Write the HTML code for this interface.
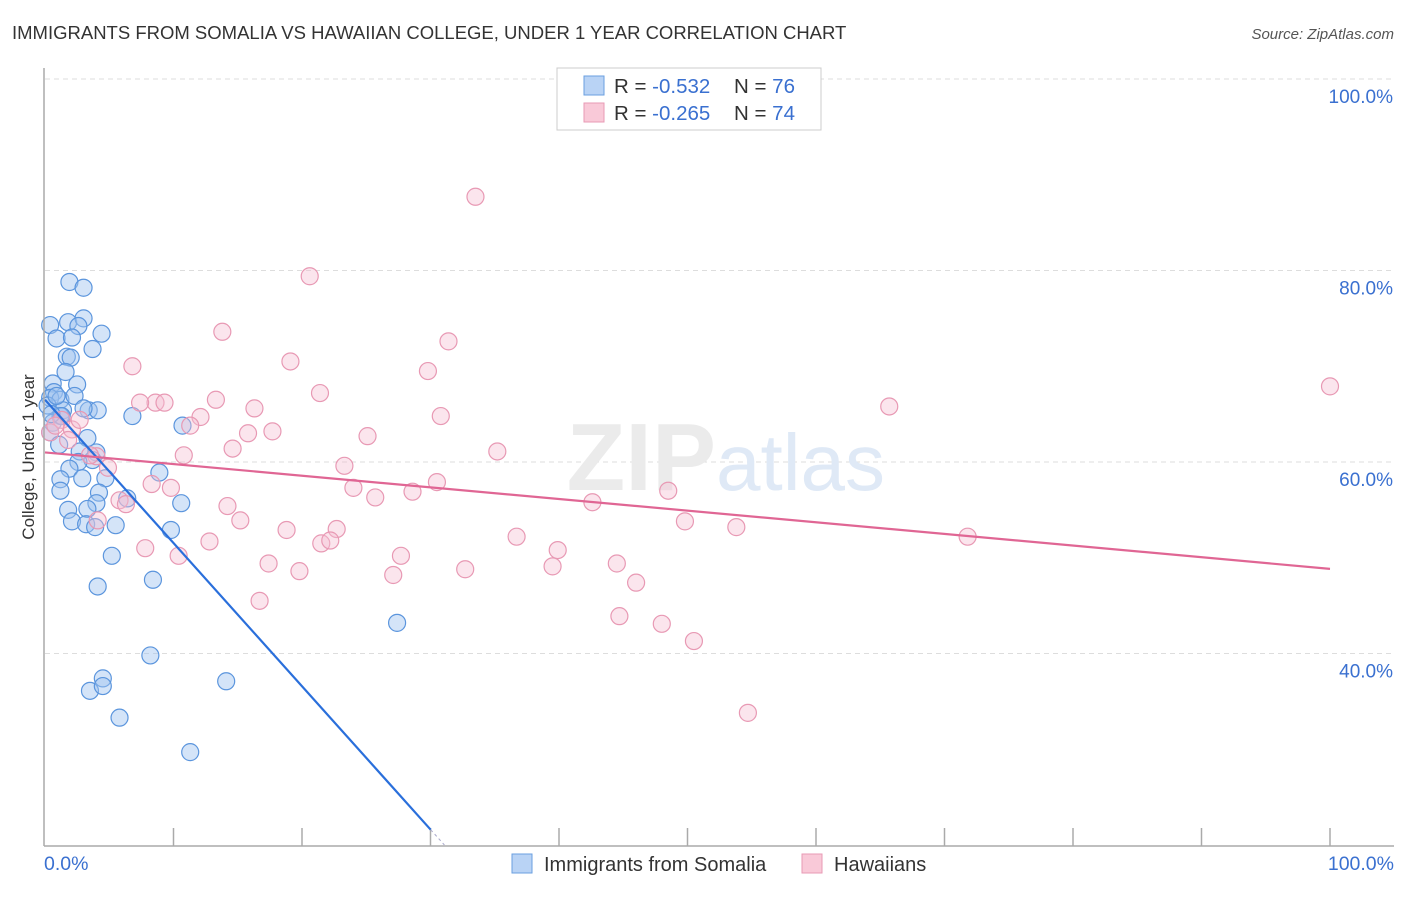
<!DOCTYPE html>
<html><head><meta charset="utf-8"><style>
body{margin:0;background:#fff;font-family:"Liberation Sans",sans-serif;}
svg text{font-family:"Liberation Sans",sans-serif;}
</style></head><body>
<svg id="chart" width="1406" height="892">
<text x="12" y="39" font-size="18.5" fill="#333">IMMIGRANTS FROM SOMALIA VS HAWAIIAN COLLEGE, UNDER 1 YEAR CORRELATION CHART</text>
<text x="1394" y="39" font-size="15" fill="#555" font-style="italic" text-anchor="end">Source: ZipAtlas.com</text>
<g id="grid"></g>
<text x="716" y="490" font-size="96" fill="#ebebeb" text-anchor="end" font-family="Liberation Serif" font-weight="bold">ZIP</text>
<text x="716" y="490" font-size="80" fill="#dfe9f6">atlas</text>
<g id="points"></g>
<g id="lines"></g>
<line x1="44" y1="68" x2="44" y2="846" stroke="#aaa" stroke-width="1.5"/>
<line x1="44" y1="846" x2="1394" y2="846" stroke="#aaa" stroke-width="1.5"/>
<text x="44" y="870" font-size="19.5" fill="#3a70d0">0.0%</text>
<text x="1394" y="870" font-size="19.5" fill="#3a70d0" text-anchor="end">100.0%</text>
<text transform="translate(34,457) rotate(-90)" font-size="17" fill="#333" text-anchor="middle">College, Under 1 year</text>
<g>
<rect x="557" y="68" width="264" height="62" fill="#fff" stroke="#ccc"/>
<rect x="584" y="76" width="20" height="19" fill="#b9d3f5" stroke="#6a9fe0"/>
<rect x="584" y="103" width="20" height="19" fill="#f9c9d8" stroke="#e89ab5"/>
<text x="614" y="93" font-size="20.5" fill="#333">R = <tspan fill="#3a70d0">-0.532</tspan><tspan x="734">N = </tspan><tspan fill="#3a70d0">76</tspan></text>
<text x="614" y="120" font-size="20.5" fill="#333">R = <tspan fill="#3a70d0">-0.265</tspan><tspan x="734">N = </tspan><tspan fill="#3a70d0">74</tspan></text>
</g>
<g>
<rect x="512" y="854" width="20" height="19" fill="#b9d3f5" stroke="#6a9fe0"/>
<text x="544" y="871" font-size="20" fill="#333">Immigrants from Somalia</text>
<rect x="802" y="854" width="20" height="19" fill="#f9c9d8" stroke="#e89ab5"/>
<text x="834" y="871" font-size="20" fill="#333">Hawaiians</text>
</g>
</svg>
<script>
const yTicks=[40,60,80,100];
const xTicks=[10,20,30,40,50,60,70,80,90,100];
const blueX=[1.9,3.0,0.4,1.8,3.0,2.6,0.9,2.1,4.4,3.7,1.7,2.0,1.6,0.6,2.5,0.7,0.4,1.2,2.3,0.2,1.4,3.4,4.1,6.8,1.2,0.6,10.7,0.4,3.3,1.1,2.7,4.0,3.7,2.6,1.9,8.9,2.9,4.7,1.2,1.2,4.2,6.4,10.6,4.0,3.3,1.8,2.1,3.2,3.9,5.5,9.8,5.2,8.4,4.1,8.2,4.5,14.1,3.5,4.5,5.8,11.3,27.4,3.0,0.9,1.3,0.5];
const blueY=[78.8,78.2,74.3,74.6,75.0,74.2,72.9,73.0,73.4,71.8,71.0,70.9,69.4,68.2,68.1,67.3,66.7,66.5,66.9,65.9,65.4,65.4,65.4,64.8,64.8,64.1,63.8,63.1,62.5,61.8,61.1,61.0,60.2,60.0,59.3,58.9,58.3,58.3,58.2,57.0,56.8,56.2,55.7,55.7,55.1,55.0,53.8,53.5,53.2,53.4,52.9,50.2,47.7,47.0,39.8,37.4,37.1,36.1,36.6,33.3,29.7,43.2,65.6,66.9,64.8,65.0];
const pinkX=[33.5,20.6,13.8,31.4,6.8,19.1,29.8,21.4,8.6,9.3,7.4,13.3,16.3,12.1,11.3,30.8,65.7,100,25.1,15.8,17.7,14.6,35.2,10.8,4.0,4.9,23.3,8.3,9.8,30.5,24.0,28.6,25.7,48.5,14.2,5.8,6.3,15.2,42.6,4.1,49.8,18.8,22.7,53.8,36.7,12.8,7.8,10.4,21.5,22.2,27.7,39.9,71.8,17.4,19.8,27.1,39.5,44.5,32.7,46.0,16.7,44.7,48.0,50.5,54.7,1.3,2.1,2.7,0.4,0.8,3.5,1.8];
const pinkY=[87.7,79.4,73.6,72.6,70.0,70.5,69.5,67.2,66.2,66.2,66.2,66.5,65.6,64.7,63.8,64.8,65.8,67.9,62.7,63.0,63.2,61.4,61.1,60.7,60.6,59.4,59.6,57.7,57.3,57.9,57.3,56.9,56.3,57.0,55.4,56.0,55.6,53.9,55.8,53.9,53.8,52.9,53.0,53.2,52.2,51.7,51.0,50.2,51.5,51.8,50.2,50.8,52.2,49.4,48.6,48.2,49.1,49.4,48.8,47.4,45.5,43.9,43.1,41.3,33.8,64.4,63.4,64.4,63.1,63.8,60.7,62.3];
const blueTrend=[66.5,-1.496]; // intercept, slope
const pinkTrend=[61.0,-0.1216];
const sx=v=>45+v*12.85, sy=v=>79+(100-v)*9.575;
const NS='http://www.w3.org/2000/svg';
function mk(tag,attrs,parent){const e=document.createElementNS(NS,tag);for(const k in attrs)e.setAttribute(k,attrs[k]);document.getElementById(parent).appendChild(e);return e;}
yTicks.forEach(t=>{
 const l=mk('line',{x1:45,x2:1394,y1:sy(t),y2:sy(t),stroke:'#ddd','stroke-dasharray':'5,4'},'grid');
 
 
 const tx=mk('text',{x:1393,y:sy(t)+24,'font-size':19,fill:'#3a70d0','text-anchor':'end'},'grid');
 tx.textContent=t.toFixed(1)+'%';
 
 
});
xTicks.forEach(t=>{
 const l=mk('line',{x1:sx(t),x2:sx(t),y1:828,y2:846,stroke:'#aaa','stroke-width':1.5},'grid');
 
 
});
blueX.forEach((x,i)=>{
 const c=mk('circle',{cx:sx(x),cy:sy(blueY[i]),r:8.5,fill:'rgba(160,196,240,0.45)',stroke:'#5b95dd','stroke-width':1.2},'points');
 
 
});
pinkX.forEach((x,i)=>{
 const c=mk('circle',{cx:sx(x),cy:sy(pinkY[i]),r:8.5,fill:'rgba(246,190,210,0.4)',stroke:'#e899b4','stroke-width':1.2},'points');
 
 
});
const yStop=21.6, yBottom=20;
const bEnd=(yStop-blueTrend[0])/blueTrend[1];
const bl=mk('line',{x1:sx(0),y1:sy(blueTrend[0]),x2:sx(bEnd),y2:sy(yStop),stroke:'#2a6fdb','stroke-width':2.2},'lines');


const bEnd2=(yBottom-blueTrend[0])/blueTrend[1];
const bd=mk('line',{x1:sx(bEnd),y1:sy(yStop),x2:sx(bEnd2),y2:sy(yBottom),stroke:'#aac','stroke-width':1,'stroke-dasharray':'3,3'},'lines');


const pl=mk('line',{x1:sx(0),y1:sy(pinkTrend[0]),x2:sx(100),y2:sy(pinkTrend[0]+100*pinkTrend[1]),stroke:'#e06694','stroke-width':2.2},'lines');


</script>
</body></html>
